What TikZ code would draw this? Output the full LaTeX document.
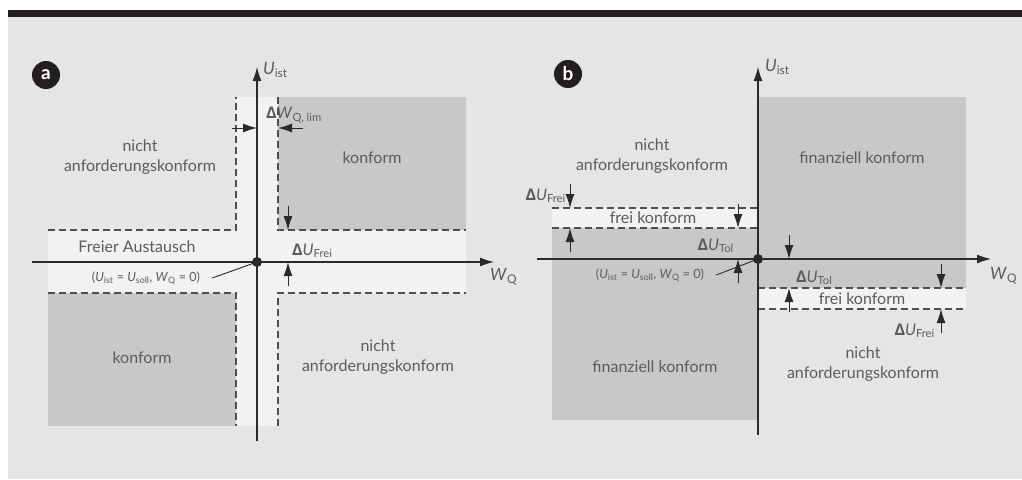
\documentclass[tikz,border=0pt]{standalone}
\usepackage{fontspec}
\setmainfont{Lato}
\newfontfamily\dfont{Open Sans}
\usetikzlibrary{arrows.meta}
\definecolor{panel}{HTML}{E4E5E7}
\definecolor{darkarea}{HTML}{C7C8CA}
\definecolor{lightband}{HTML}{F1F2F4}
\definecolor{barblack}{HTML}{231F20}
\definecolor{txt}{HTML}{5B5C5E}
\definecolor{axisc}{HTML}{2A2A2C}
\definecolor{dashc}{HTML}{4E4E50}
\newcommand{\Dl}{{\dfont\bfseries Δ}}
\newcommand{\Sb}[1]{\textsubscript{#1}}
\tikzset{
  axisline/.style={draw=axisc, line width=1.1pt, -{Latex[length=14pt,width=9pt]}},
  dimarrow/.style={draw=axisc, line width=1pt, -{Latex[length=14pt,width=9pt]}},
  dashline/.style={draw=dashc, line width=1.1pt, dash pattern=on 7pt off 4pt},
  leader/.style={draw=axisc, line width=0.9pt},
  region/.style={text=txt, align=center, inner sep=0pt, font=\fontsize{16}{20}\selectfont},
  lbl/.style={text=txt, inner sep=0pt, font=\fontsize{16}{18}\selectfont},
  small/.style={text=txt, inner sep=0pt, font=\fontsize{12.6}{14}\selectfont},
  axlbl/.style={text=txt, inner sep=0pt, font=\fontsize{17}{18}\selectfont},
  badge/.style={circle, fill=barblack, text=white, minimum size=28pt, inner sep=0pt, font=\fontsize{19}{19}\selectfont\bfseries},
}
\begin{document}
\begin{tikzpicture}[x=1pt, y=-1pt]
\useasboundingbox (0,0) rectangle (1022,479);
% background
\fill[white] (0,0) rectangle (1022,479);
\fill[panel] (8,17) rectangle (1022,479);
\fill[barblack] (8,10) rectangle (1022,17);

% ================= Panel a =================
\fill[lightband] (236,97) rectangle (278,426);
\fill[lightband] (48,230) rectangle (466,293);
\fill[darkarea] (278,97) rectangle (466,230);
\fill[darkarea] (48,293) rectangle (236,426);
\draw[dashline] (48,230) -- (236,230) -- (236,97);
\draw[dashline] (278,97) -- (278,230) -- (466,230);
\draw[dashline] (48,293) -- (236,293) -- (236,426);
\draw[dashline] (278,426) -- (278,293) -- (466,293);

\coordinate (ya0) at (257,441);
\coordinate (ya1) at (257,67);
\coordinate (xa0) at (32,262);
\coordinate (xa1) at (494,262);
\coordinate (Oa) at (257,262);
\draw[axisline] (ya0) -- (ya1);
\draw[axisline] (xa0) -- (xa1);

\node[badge] (ba) at (46,75) {a};
\node[axlbl, anchor=west] (ua) at (263,70) {\textit{U}\Sb{ist}};
\node[axlbl, anchor=west] (wa) at (490,277) {\textit{W}\Sb{Q}};

\node[region] (n1) at (140,157) {nicht\\anforderungskonform};
\node[region] (k1) at (372,158) {konform};
\node[region] (fa) at (137,247) {Freier Austausch};
\node[small] (pa) at (146,278) {(\textit{U}\Sb{ist} = \textit{U}\Sb{soll}, \textit{W}\Sb{Q} = 0)};
\node[region] (k2) at (142,358) {konform};
\node[region] (n2) at (378,357) {nicht\\anforderungskonform};

% Delta W_Q,lim
\coordinate (wl0) at (232,128);
\coordinate (wl1) at (257,128);
\coordinate (wr0) at (303,128);
\coordinate (wr1) at (278,128);
\draw[dimarrow] (wl0) -- (wl1);
\draw[dimarrow] (wr0) -- (wr1);
\node[lbl, anchor=west] (dwa) at (266,115) {\Dl\textit{W}\Sb{Q, lim}};

% Delta U_Frei (a)
\coordinate (ua0) at (288,206);
\coordinate (ua1) at (288,230);
\coordinate (ub0) at (288,286);
\coordinate (ub1) at (288,262);
\draw[dimarrow] (ua0) -- (ua1);
\draw[dimarrow] (ub0) -- (ub1);
\node[lbl, anchor=west] (dua) at (292,251) {\Dl\textit{U}\Sb{Frei}};

\draw[leader] ([xshift=12pt]pa.east) -- (Oa);
\fill[axisc] (Oa) circle (5pt);

% ================= Panel b =================
\fill[darkarea] (758,97) rectangle (966,288);
\fill[lightband] (758,288) rectangle (966,309);
\fill[lightband] (552,208) rectangle (758,228);
\fill[darkarea] (552,228) rectangle (758,420);
\draw[dashline] (552,208) -- (758,208);
\draw[dashline] (552,228) -- (758,228);
\draw[dashline] (758,288) -- (966,288);
\draw[dashline] (758,309) -- (966,309);

\coordinate (yb0) at (758,435);
\coordinate (yb1) at (758,67);
\coordinate (xb0) at (537,259);
\coordinate (xb1) at (991,259);
\coordinate (Ob) at (758,259);
\draw[axisline] (yb0) -- (yb1);
\draw[axisline] (xb0) -- (xb1);

\node[badge] (bb) at (568,74) {b};
\node[axlbl, anchor=west] (ubl) at (765,67) {\textit{U}\Sb{ist}};
\node[axlbl, anchor=west] (wb) at (990,276) {\textit{W}\Sb{Q}};

\node[region] (n3) at (652,156) {nicht\\anforderungskonform};
\node[region] (f1) at (862,158) {finanziell konform};
\node[region] (fk1) at (653,218) {frei konform};
\node[small] (pb) at (650,275) {(\textit{U}\Sb{ist} = \textit{U}\Sb{soll}, \textit{W}\Sb{Q} = 0)};
\node[region] (fk2) at (862,299) {frei konform};
\node[region] (f2) at (655,367) {finanziell konform};
\node[region] (n4) at (863,364) {nicht\\anforderungskonform};

% Delta U_Frei left
\coordinate (p1a) at (570,184);
\coordinate (p1b) at (570,208);
\coordinate (p2a) at (570,252);
\coordinate (p2b) at (570,228);
\draw[dimarrow] (p1a) -- (p1b);
\draw[dimarrow] (p2a) -- (p2b);
\node[lbl, anchor=east] (dul) at (566,196) {\Dl\textit{U}\Sb{Frei}};

% Delta U_Tol left
\coordinate (q1a) at (738,204);
\coordinate (q1b) at (738,228);
\coordinate (q2a) at (738,283);
\coordinate (q2b) at (738,259);
\draw[dimarrow] (q1a) -- (q1b);
\draw[dimarrow] (q2a) -- (q2b);
\node[lbl, anchor=east] (dtl) at (734,246) {\Dl\textit{U}\Sb{Tol}};

% Delta U_Tol right
\coordinate (r1a) at (789,235);
\coordinate (r1b) at (789,259);
\coordinate (r2a) at (789,312);
\coordinate (r2b) at (789,288);
\draw[dimarrow] (r1a) -- (r1b);
\draw[dimarrow] (r2a) -- (r2b);
\node[lbl, anchor=west] (dtr) at (796,278) {\Dl\textit{U}\Sb{Tol}};

% Delta U_Frei right
\coordinate (s1a) at (941,264);
\coordinate (s1b) at (941,288);
\coordinate (s2a) at (941,333);
\coordinate (s2b) at (941,309);
\draw[dimarrow] (s1a) -- (s1b);
\draw[dimarrow] (s2a) -- (s2b);
\node[lbl, anchor=east] (dur) at (935,331) {\Dl\textit{U}\Sb{Frei}};

\draw[leader] ([xshift=12pt]pb.east) -- (Ob);
\fill[axisc] (Ob) circle (5pt);
\end{tikzpicture}
\end{document}
